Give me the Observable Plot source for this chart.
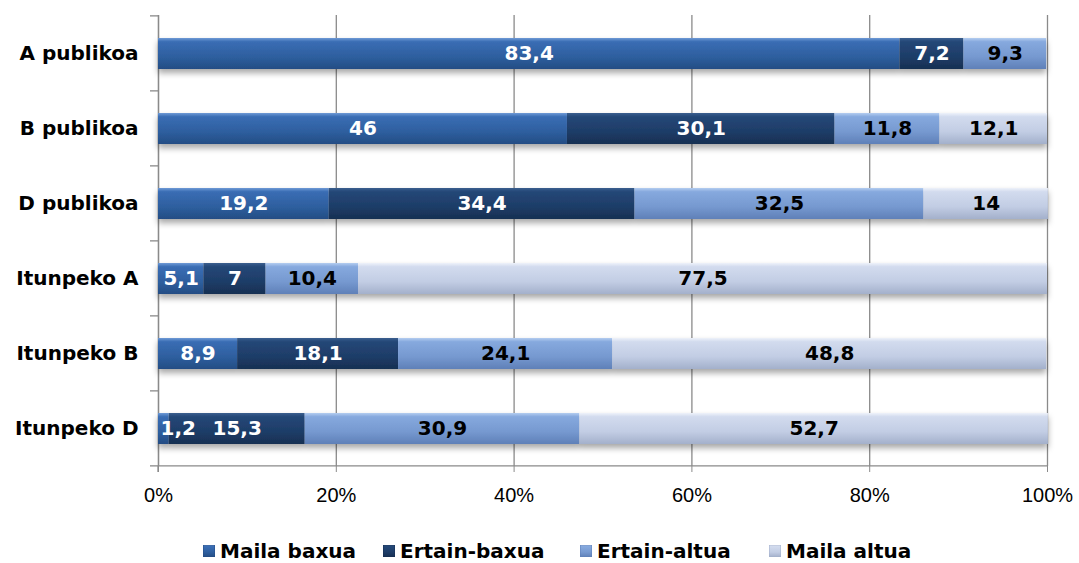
<!DOCTYPE html>
<html><head><meta charset="utf-8">
<script src="https://cdn.jsdelivr.net/npm/d3@7"></script>
<script src="https://cdn.jsdelivr.net/npm/@observablehq/plot@0.6"></script>
<style>
body{margin:0;background:#fff;}
#chart{width:1079px;}
#chart > svg{display:block;}
.legend{position:relative;width:1079px;height:41px;}
.legend .item{position:absolute;top:18px;height:22px;line-height:22px;display:flex;align-items:center;font:bold 20px "DejaVu Sans", sans-serif;color:#000;white-space:nowrap;}
.legend .item svg{margin-right:5px;display:block;}
</style>
</head><body><div id="chart"></div><script>
const categories = ["A publikoa","B publikoa","D publikoa","Itunpeko A","Itunpeko B","Itunpeko D"];
const series = ["Maila baxua","Ertain-baxua","Ertain-altua","Maila altua"];
const mailaBaxua  = [83.4, 46,   19.2, 5.1,  8.9,  1.2];
const ertainBaxua = [7.2,  30.1, 34.4, 7,    18.1, 15.3];
const ertainAltua = [9.3,  11.8, 32.5, 10.4, 24.1, 30.9];
const mailaAltua  = [0,    12.1, 14,   77.5, 48.8, 52.7];
const xTicks = [0, 20, 40, 60, 80, 100];

const seriesValues = [mailaBaxua, ertainBaxua, ertainAltua, mailaAltua];
const gradIds = ["g0","g1","g2","g3"];
const gradStops = [
  ["#6f9ad6","#3a6db4","#2e5f9f","#244d84"],
  ["#3a5f8f","#244777","#1e3d68","#172f52"],
  ["#b4cdf0","#86a9de","#7699d0","#5f80b8"],
  ["#eef2fa","#d2dbee","#c2cde4","#a3b0cb"]
];
const darkSeries = ["Maila baxua","Ertain-baxua"];
const smallLimit = 3;

const table = [];
categories.forEach((c, i) => series.forEach((s, j) => table.push({cat: c, series: s, value: seriesValues[j][i]})));
const fmt = v => String(v).replace(".", ",");
const labelFont = {fontWeight: "bold", fontSize: 20, fontFamily: "'DejaVu Sans', sans-serif"};

const plot = Plot.plot({
  width: 1079,
  height: 522,
  marginLeft: 158,
  marginRight: 32,
  marginTop: 15,
  marginBottom: 56,
  style: {fontFamily: "'Liberation Sans', Arial, sans-serif", fontSize: "20px", color: "#000", background: "#fff"},
  x: {domain: [0, 100], ticks: xTicks, tickFormat: d => d + "%", label: null},
  y: {domain: categories, paddingInner: 0.59, paddingOuter: 0.295, label: null},
  color: {domain: series, range: gradIds.map(g => `url(#${g})`)},
  marks: [
    Plot.gridX(xTicks, {stroke: "#8a8a8a", strokeOpacity: 1, strokeWidth: 1.3}),
    Plot.ruleX([0], {stroke: "#8a8a8a", strokeWidth: 1.3}),
    Plot.axisX({ticks: xTicks, tickFormat: d => d + "%", tickSize: 6, tickPadding: 15, stroke: "#8a8a8a", fontSize: 20, letterSpacing: "0.8px"}),
    Plot.axisY({tickSize: 0, tickPadding: 20, fontSize: 20, fontWeight: "bold", fontFamily: "'DejaVu Sans', sans-serif"}),
    Plot.barX(table, Plot.stackX({x: "value", y: "cat", fill: "series", z: "series"})),
    Plot.text(table, Plot.stackX({x: "value", y: "cat", z: "series",
      text: d => darkSeries.includes(d.series) && d.value >= smallLimit ? fmt(d.value) : null,
      fill: "white", ...labelFont})),
    Plot.text(table, Plot.stackX1({x: "value", y: "cat", z: "series",
      text: d => darkSeries.includes(d.series) && d.value > 0 && d.value < smallLimit ? fmt(d.value) : null,
      fill: "white", textAnchor: "start", dx: 2, ...labelFont})),
    Plot.text(table, Plot.stackX({x: "value", y: "cat", z: "series",
      text: d => !darkSeries.includes(d.series) && d.value > 0 ? fmt(d.value) : null,
      fill: "black", ...labelFont}))
  ]
});

const svg = d3.select(plot);
const defs = svg.insert("defs", ":first-child");
gradIds.forEach((id, i) => {
  const g = defs.append("linearGradient").attr("id", id).attr("x1", 0).attr("y1", 0).attr("x2", 0).attr("y2", 1);
  [[0, 0], [0.12, 1], [0.6, 2], [1, 3]].forEach(([o, k]) => g.append("stop").attr("offset", o).attr("stop-color", gradStops[i][k]));
});
const f = defs.append("filter").attr("id", "shadow").attr("x", "-5%").attr("y", "-20%").attr("width", "110%").attr("height", "160%");
f.append("feDropShadow").attr("dx", 0).attr("dy", 4).attr("stdDeviation", 3).attr("flood-color", "#000").attr("flood-opacity", 0.35);
svg.selectAll("g[aria-label='bar']").attr("filter", "url(#shadow)");

// horizontal axis line and left band-boundary ticks from the y scale
const ys = plot.scale("y"), xs = plot.scale("x");
const x0 = xs.apply(0), x1 = xs.apply(100);
const top0 = ys.apply(categories[0]) - ys.step * ys.paddingOuter;
const extra = svg.append("g").attr("stroke", "#8a8a8a").attr("stroke-width", 1.3);
for (let k = 0; k <= categories.length; k++) {
  const yy = top0 + k * ys.step;
  extra.append("line").attr("x1", x0 - 8).attr("x2", x0).attr("y1", yy).attr("y2", yy);
}
const yb = top0 + categories.length * ys.step;
extra.append("line").attr("x1", x0).attr("x2", x1).attr("y1", yb).attr("y2", yb);
extra.append("line").attr("x1", x0).attr("x2", x0).attr("y1", yb).attr("y2", yb + 6);

const chart = document.getElementById("chart");
chart.appendChild(plot);

// legend
const legend = document.createElement("div");
legend.className = "legend";
chart.appendChild(legend);
const legendX = [203, 383, 580, 769];
series.forEach((s, i) => {
  const it = document.createElement("div");
  it.className = "item";
  it.style.left = legendX[i] + "px";
  const ns = "http://www.w3.org/2000/svg";
  const sw = document.createElementNS(ns, "svg");
  sw.setAttribute("width", 12); sw.setAttribute("height", 12);
  const r = document.createElementNS(ns, "rect");
  r.setAttribute("width", 12); r.setAttribute("height", 12);
  r.setAttribute("fill", `url(#${gradIds[i]})`);
  r.setAttribute("stroke", gradStops[i][3]); r.setAttribute("stroke-width", 1);
  sw.appendChild(r);
  it.appendChild(sw);
  const sp = document.createElement("span");
  sp.textContent = s;
  it.appendChild(sp);
  legend.appendChild(it);
});
</script></body></html>
